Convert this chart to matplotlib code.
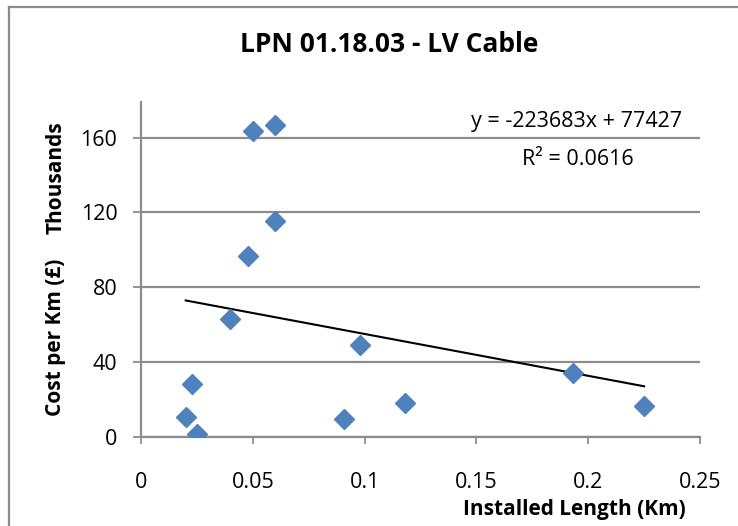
import numpy as np
import matplotlib.pyplot as plt
from matplotlib.lines import Line2D

# Installed length (Km) vs cost per Km (£ thousands)
length_km = [0.050, 0.060, 0.060, 0.048, 0.040, 0.098, 0.023,
             0.020, 0.025, 0.091, 0.118, 0.193, 0.225]
cost_k = [163.6, 166.6, 115.6, 96.9, 62.8, 49.4, 28.4,
          10.5, 1.8, 9.6, 18.4, 34.2, 16.8]

# Excel linear trendline (in £)
slope = -223683
intercept = 77427
r_squared = 0.0616

x_ticks = [0, 0.05, 0.1, 0.15, 0.2, 0.25]
x_tick_labels = ["0", "0.05", "0.1", "0.15", "0.2", "0.25"]
y_ticks = [0, 40, 80, 120, 160]

W, H = 738, 526
plt.rcParams['font.family'] = ['Open Sans', 'DejaVu Sans']

fig = plt.figure(figsize=(W / 100, H / 100), dpi=100)


def fx(x):
    return x / W


def fy(y):
    return 1 - y / H


# chart area border (cropped at right/bottom)
grey = '#8c8c8c'
fig.add_artist(Line2D([fx(9), fx(9)], [fy(7), 0], color=grey, lw=1.6))
fig.add_artist(Line2D([fx(9), 1], [fy(7), fy(7)], color=grey, lw=1.6))

ax = fig.add_axes([fx(141), fy(437), fx(700) - fx(141), fy(102) - fy(437)])
ax.set_xlim(0, 0.25)
ax.set_ylim(0, 179)

ax.set_xticks(x_ticks)
ax.set_xticklabels(x_tick_labels)
ax.set_yticks(y_ticks)
ax.yaxis.grid(True, color=grey, lw=1.6)
ax.set_axisbelow(True)
for s in ['top', 'right']:
    ax.spines[s].set_visible(False)
for s in ['left', 'bottom']:
    ax.spines[s].set_color(grey)
    ax.spines[s].set_linewidth(1.6)
ax.tick_params(axis='x', direction='out', length=5, width=1.3, color=grey,
               pad=20, labelsize=15.5, labelcolor='black')
ax.tick_params(axis='y', direction='out', length=6, width=1.3, color=grey,
               pad=11, labelsize=15.5, labelcolor='black')

ax.plot(length_km, cost_k, linestyle='none', marker='D', markersize=10,
        color='#4f81bd', zorder=3)

# trendline drawn over the data range
xt = np.array([min(length_km), max(length_km)])
ax.plot(xt, (slope * xt + intercept) / 1000, color='black', lw=1.5, zorder=2)

fig.text(fx(577), fy(121), f"y = {slope}x + {intercept}", ha='center',
         va='center', fontsize=15.5)
fig.text(fx(578), fy(160), f"R² = {r_squared}", ha='center', va='center',
         fontsize=15.5)

fig.text(fx(389), fy(45), "LPN 01.18.03 - LV Cable", ha='center', va='center',
         fontsize=19, fontweight='bold')
fig.text(fx(574), fy(510), "Installed Length (Km)", ha='center', va='center',
         fontsize=15, fontweight='bold')
fig.text(fx(56), fy(337), "Cost per Km (£)", ha='center', va='center',
         rotation=90, fontsize=15, fontweight='bold')
fig.text(fx(56), fy(178), "Thousands", ha='center', va='center',
         rotation=90, fontsize=15, fontweight='bold')

fig.savefig('out.png', dpi=100)
